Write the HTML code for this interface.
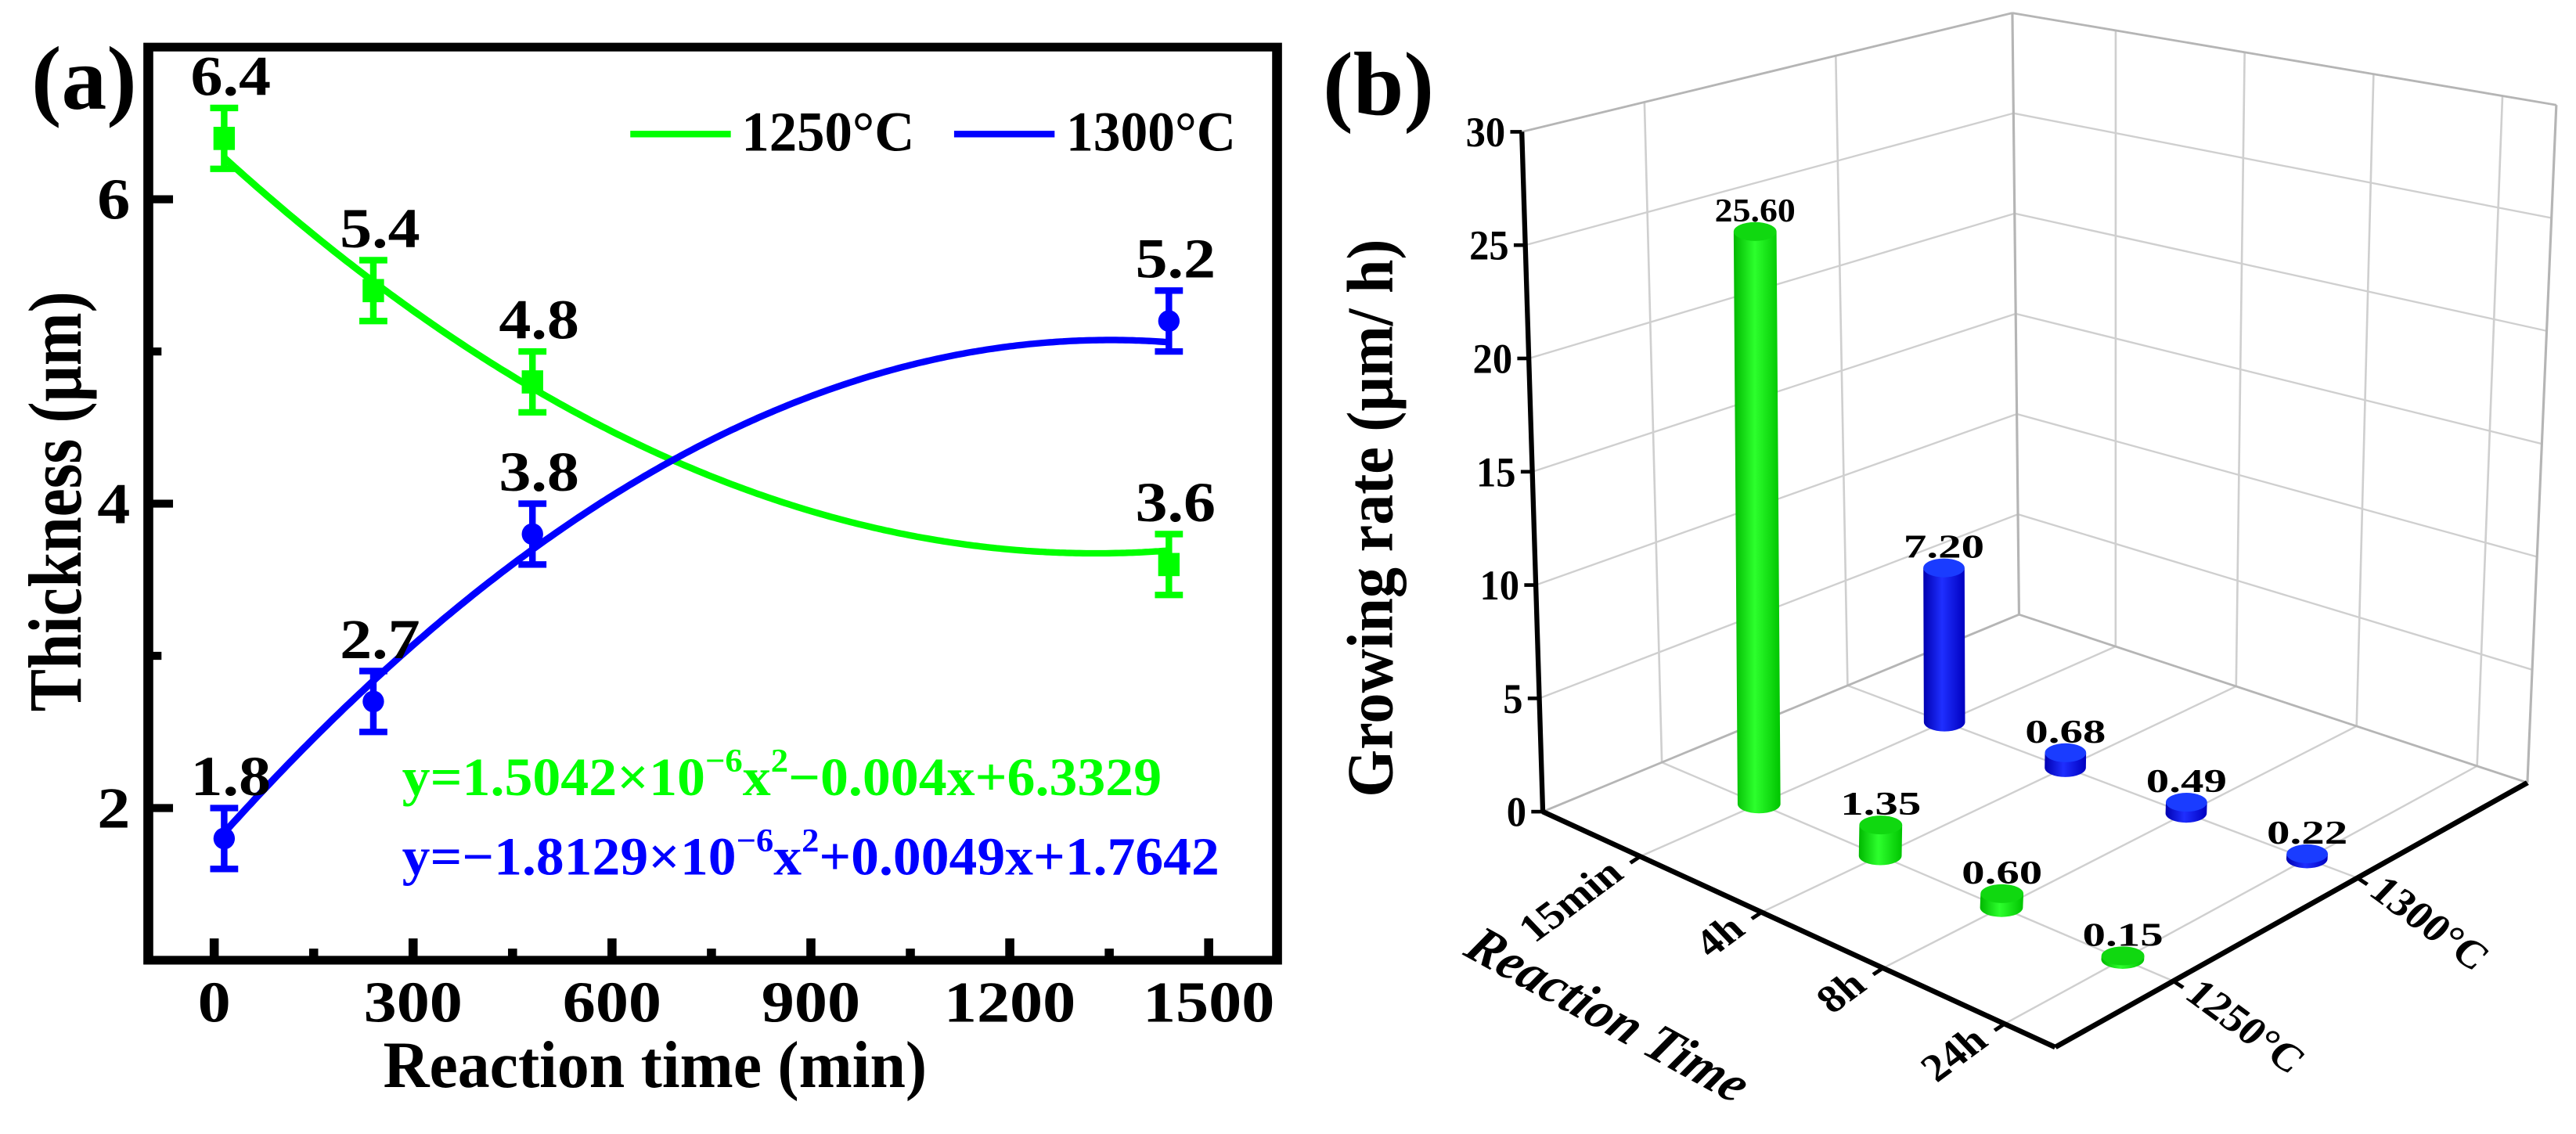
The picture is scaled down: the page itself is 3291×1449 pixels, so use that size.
<!DOCTYPE html>
<html><head><meta charset="utf-8"><style>
html,body{margin:0;padding:0;background:#fff;}
svg, svg text{font-family:"Liberation Serif","Times New Roman",serif;}
svg{display:block;}
</style></head><body>
<svg id="root" width="3291" height="1449" viewBox="0 0 3291 1449" xmlns="http://www.w3.org/2000/svg" font-family="Liberation Serif, Times New Roman, serif">
<defs>
<linearGradient id="gG" x1="0" x2="1" y1="0" y2="0"><stop offset="0" stop-color="#00b800"/><stop offset="0.45" stop-color="#2dff2d"/><stop offset="1" stop-color="#00c400"/></linearGradient>
<linearGradient id="gB" x1="0" x2="1" y1="0" y2="0"><stop offset="0" stop-color="#0000b0"/><stop offset="0.45" stop-color="#1f2fff"/><stop offset="1" stop-color="#0000c0"/></linearGradient>
</defs>
<g id="panelA" transform="translate(0,0) scale(1.0526,0.926)"></g>
<g id="panelB" transform="translate(1650,0) scale(1.0526,0.926)"></g>
</svg>
<script>
// ---------- Panel (a) data ----------
const times = [15, 240, 480, 1440];
const thick1250 = [6.4, 5.4, 4.8, 3.6];
const thick1300 = [1.8, 2.7, 3.8, 5.2];
const err1250 = [0.2, 0.2, 0.2, 0.2];
const err1300 = [0.2, 0.2, 0.2, 0.2];
const xTicks = [0, 300, 600, 900, 1200, 1500];
const xMinor = [150, 450, 750, 1050, 1350];
const yTicks = [2, 4, 6];
const yMinor = [3, 5];
const fit1250 = [1.5042e-6, -0.004, 6.3329];
const fit1300 = [-1.8129e-6, 0.0049, 1.7642];

// ---------- Panel (b) data ----------
const timeCats = ['15min', '4h', '8h', '24h'];
const tempCats = ['1250°C', '1300°C'];
const rate1250 = [25.60, 1.35, 0.60, 0.15];
const rate1300 = [7.20, 0.68, 0.49, 0.22];
const zTicks = [0, 5, 10, 15, 20, 25, 30];

const NS = 'http://www.w3.org/2000/svg';
function mk(parent, tag, attrs, text) {
  const e = document.createElementNS(NS, tag);
  for (const k in attrs) e.setAttribute(k, attrs[k]);
  if (tag === 'text') e.setAttribute('font-family', 'Liberation Serif, Times New Roman, serif');
  if (text !== undefined) e.textContent = text;
  parent.appendChild(e);
  return e;
}

// ================= Panel A =================
(function () {
  const g = document.getElementById('panelA');
  const L = 180, R = 1550, T = 65, B = 1325;
  const X = v => 260 + v * (1467 - 260) / 1500;
  const Y = v => 65 + (7 - v) * 210;

  function fitPath(c) {
    let d = '';
    for (let x = times[0]; x <= times[times.length - 1]; x += 5) {
      const y = c[0] * x * x + c[1] * x + c[2];
      d += (d ? 'L' : 'M') + X(x).toFixed(1) + ',' + Y(y).toFixed(1);
    }
    return d;
  }
  let p = mk(g, 'path', {d: fitPath(fit1250), fill: 'none', stroke: '#00ff00', 'stroke-width': 9});
  
  
  p = mk(g, 'path', {d: fitPath(fit1300), fill: 'none', stroke: '#0000ff', 'stroke-width': 9});
  
  

  function series(vals, errs, color, marker, name) {
    vals.forEach((v, i) => {
      const cx = X(times[i]), cy = Y(v);
      const top = Y(v + errs[i]), bot = Y(v - errs[i]);
      const eg = mk(g, 'g', {});
      
      
      mk(eg, 'line', {x1: cx, x2: cx, y1: top, y2: bot, stroke: color, 'stroke-width': 8});
      mk(eg, 'line', {x1: cx - 17, x2: cx + 17, y1: top, y2: top, stroke: color, 'stroke-width': 9});
      mk(eg, 'line', {x1: cx - 17, x2: cx + 17, y1: bot, y2: bot, stroke: color, 'stroke-width': 9});
      if (marker === 'sq') mk(eg, 'rect', {x: cx - 13, y: cy - 16, width: 26, height: 32, fill: color});
      else mk(eg, 'ellipse', {cx: cx, cy: cy, rx: 13, ry: 15, fill: color});
      const t = mk(g, 'text', {x: cx + 8, y: top - 18, 'text-anchor': 'middle', 'font-size': 78, 'font-weight': 'bold', fill: '#000'}, v.toFixed(1));
      
      
    });
  }
  series(thick1250, err1250, '#00ff00', 'sq', 'series-1250');
  series(thick1300, err1300, '#0000ff', 'ci', 'series-1300');

  const fr = mk(g, 'rect', {x: L, y: T, width: R - L, height: B - T, fill: 'none', stroke: '#000', 'stroke-width': 12});
  
  

  xTicks.forEach(v => {
    mk(g, 'line', {x1: X(v), x2: X(v), y1: B, y2: B - 30, stroke: '#000', 'stroke-width': 11});
    const t = mk(g, 'text', {x: X(v), y: 1410, 'text-anchor': 'middle', 'font-size': 80, 'font-weight': 'bold'}, String(v));
    
    
  });
  xMinor.forEach(v => mk(g, 'line', {x1: X(v), x2: X(v), y1: B, y2: B - 16, stroke: '#000', 'stroke-width': 11}));
  yTicks.forEach(v => {
    mk(g, 'line', {x1: L, x2: L + 30, y1: Y(v), y2: Y(v), stroke: '#000', 'stroke-width': 11});
    const t = mk(g, 'text', {x: 158, y: Y(v) + 27, 'text-anchor': 'end', 'font-size': 80, 'font-weight': 'bold'}, String(v));
    
    
  });
  yMinor.forEach(v => mk(g, 'line', {x1: L, x2: L + 16, y1: Y(v), y2: Y(v), stroke: '#000', 'stroke-width': 11}));

  let t = mk(g, 'text', {x: 795, y: 1500, 'text-anchor': 'middle', 'font-size': 92, 'font-weight': 'bold', textLength: 660, lengthAdjust: 'spacingAndGlyphs'}, 'Reaction time (min)');
  
  
  t = mk(g, 'text', {x: 0, y: 0, 'text-anchor': 'middle', 'font-size': 92, 'font-weight': 'bold', transform: 'translate(98,692) rotate(-90)', textLength: 580, lengthAdjust: 'spacingAndGlyphs'}, 'Thickness (μm)');
  
  
  t = mk(g, 'text', {x: 38, y: 150, 'font-size': 125, 'font-weight': 'bold', textLength: 128, lengthAdjust: 'spacingAndGlyphs'}, '(a)');
  
  

  const lg = mk(g, 'g', {});
  
  
  mk(lg, 'line', {x1: 765, x2: 887, y1: 185, y2: 185, stroke: '#00ff00', 'stroke-width': 9});
  mk(lg, 'text', {x: 900, y: 208, 'font-size': 78, 'font-weight': 'bold', textLength: 210, lengthAdjust: 'spacingAndGlyphs'}, '1250°C');
  mk(lg, 'line', {x1: 1158, x2: 1280, y1: 185, y2: 185, stroke: '#0000ff', 'stroke-width': 9});
  mk(lg, 'text', {x: 1294, y: 208, 'font-size': 78, 'font-weight': 'bold', textLength: 206, lengthAdjust: 'spacingAndGlyphs'}, '1300°C');

  function eq(y, color, a, b, name, len) {
    const e = mk(g, 'text', {x: 488, y: y, 'font-size': 74, 'font-weight': 'bold', fill: color, textLength: len, lengthAdjust: 'spacingAndGlyphs'});
    
    
    mk(e, 'tspan', {}, a);
    mk(e, 'tspan', {dy: -32, 'font-size': 46}, '−6');
    mk(e, 'tspan', {dy: 32}, 'x');
    mk(e, 'tspan', {dy: -32, 'font-size': 46}, '2');
    mk(e, 'tspan', {dy: 32}, b);
  }
  eq(1097, '#00ff00', 'y=1.5042×10', '−0.004x+6.3329', 'fit-equation-1250', 922);
  eq(1207, '#0000ff', 'y=−1.8129×10', '+0.0049x+1.7642', 'fit-equation-1300', 992);
})();

// ================= Panel B =================
(function () {
  const g = document.getElementById('panelB');
  const O = [305, 1120], F = [927, 1445], Rc = [1500, 1080], Bc = [883, 848];
  const zO = [-0.85, -31.27], zF = [2.3, -33.5], zR = [1.17, -31.17], zB = [-0.27, -27.67];
  const uOf = i => 0.19 + i * 0.237;
  const vOf = j => 0.25 + j * 0.39;
  function bl(a, b, c, d, u, v, k) {
    return (1 - u) * (1 - v) * a[k] + u * (1 - v) * b[k] + u * v * c[k] + (1 - u) * v * d[k];
  }
  function P(u, v, z) {
    const x = bl(O, F, Rc, Bc, u, v, 0), y = bl(O, F, Rc, Bc, u, v, 1);
    const zx = bl(zO, zF, zR, zB, u, v, 0), zy = bl(zO, zF, zR, zB, u, v, 1);
    return [x + zx * z, y + zy * z];
  }
  const ln = (a, b, attrs) => mk(g, 'line', Object.assign({x1: a[0], y1: a[1], x2: b[0], y2: b[1]}, attrs));
  const grid = {stroke: '#cfcfcf', 'stroke-width': 2.5};

  zTicks.forEach(z => {
    if (z > 0) { ln(P(0, 0, z), P(0, 1, z), grid); ln(P(0, 1, z), P(1, 1, z), grid); }
  });
  tempCats.forEach((c, j) => ln(P(0, vOf(j), 0), P(0, vOf(j), 30), grid));
  timeCats.forEach((c, i) => ln(P(uOf(i), 1, 0), P(uOf(i), 1, 30), grid));
  timeCats.forEach((c, i) => ln(P(uOf(i), 0, 0), P(uOf(i), 1, 0), grid));
  tempCats.forEach((c, j) => ln(P(0, vOf(j), 0), P(1, vOf(j), 0), grid));
  const edge = {stroke: '#b5b5b5', 'stroke-width': 3};
  ln(P(0, 1, 0), P(0, 1, 30), edge);
  ln(P(1, 1, 0), P(1, 1, 30), edge);
  ln(P(0, 0, 30), P(0, 1, 30), edge);
  ln(P(0, 1, 30), P(1, 1, 30), edge);
  ln(P(0, 1, 0), P(1, 1, 0), edge);
  ln(P(0, 0, 0), P(0, 1, 0), edge);

  const ax = {stroke: '#000', 'stroke-width': 7};
  let a = ln(P(0, 0, 0), P(0, 0, 30), {stroke: '#000', 'stroke-width': 6});
  
  
  a = ln(P(0, 0, 0), P(1, 0, 0), ax);
  
  
  a = ln(P(1, 0, 0), P(1, 1, 0), ax);
  
  

  zTicks.forEach(z => {
    const p = P(0, 0, z);
    ln(p, [p[0] - 14, p[1]], {stroke: '#000', 'stroke-width': 5});
    const t = mk(g, 'text', {x: p[0] - 20, y: p[1] + 20, 'text-anchor': 'end', 'font-size': 58, 'font-weight': 'bold', textLength: z >= 10 ? 48 : 24, lengthAdjust: 'spacingAndGlyphs'}, String(z));
    
    
  });
  timeCats.forEach((c, i) => {
    const p = P(uOf(i), 0, 0);
    ln(p, [p[0] - 12, p[1] + 9], {stroke: '#000', 'stroke-width': 5});
    const t = mk(g, 'text', {x: 0, y: 0, 'text-anchor': 'end', 'font-size': 54, 'font-weight': 'bold', transform: `translate(${p[0] - 18},${p[1] + 28}) rotate(-40)`}, c);
    
    
  });
  tempCats.forEach((c, j) => {
    const p = P(1, vOf(j), 0);
    ln(p, [p[0] + 12, p[1] + 9], {stroke: '#000', 'stroke-width': 5});
    const t = mk(g, 'text', {x: 0, y: 0, 'text-anchor': 'start', 'font-size': 54, 'font-weight': 'bold', transform: `translate(${p[0] + 12},${p[1] + 22}) rotate(40)`}, c);
    
    
  });

  function cyl(u, v, val, grad, top, w, name) {
    const b = P(u, v, 0), t = P(u, v, val);
    const ry = 13, rx = w / 2;
    const cg = mk(g, 'g', {});
    
    
    const d = `M${b[0] - rx},${b[1]} L${t[0] - rx},${t[1]} L${t[0] + rx},${t[1]} L${b[0] + rx},${b[1]} A${rx},${ry} 0 0 1 ${b[0] - rx},${b[1]} Z`;
    mk(cg, 'path', {d: d, fill: `url(#${grad})`});
    mk(cg, 'ellipse', {cx: t[0], cy: t[1], rx: rx, ry: ry, fill: top});
    return t;
  }
  const lbl = (t, val, name) => {
    const e = mk(g, 'text', {x: t[0], y: t[1] - 14, 'text-anchor': 'middle', 'font-size': 46, 'font-weight': 'bold', textLength: 98, lengthAdjust: 'spacingAndGlyphs'}, val.toFixed(2));
    
    
  };
  rate1300.forEach((v, i) => {
    const t = cyl(uOf(i), vOf(1), v, 'gB', '#1a3cff', 50, 'bar-1300-' + timeCats[i]);
    lbl(t, v, 'bar-label-1300');
  });
  rate1250.forEach((v, i) => {
    const t = cyl(uOf(i), vOf(0), v, 'gG', '#10d810', 52, 'bar-1250-' + timeCats[i]);
    lbl(t, v, 'bar-label-1250');
  });

  let t = mk(g, 'text', {x: 0, y: 0, 'text-anchor': 'middle', 'font-size': 80, 'font-weight': 'bold', transform: 'translate(122,715) rotate(-90)', textLength: 770, lengthAdjust: 'spacingAndGlyphs'}, 'Growing rate (μm/ h)');
  
  
  t = mk(g, 'text', {x: 0, y: 0, 'text-anchor': 'middle', 'font-size': 72, 'font-weight': 'bold', 'font-style': 'italic', transform: 'translate(372,1420) rotate(32)', textLength: 390, lengthAdjust: 'spacingAndGlyphs'}, 'Reaction Time');
  
  
  t = mk(g, 'text', {x: 38, y: 158, 'font-size': 125, 'font-weight': 'bold', textLength: 135, lengthAdjust: 'spacingAndGlyphs'}, '(b)');
  
  
})();
</script>
</body></html>
